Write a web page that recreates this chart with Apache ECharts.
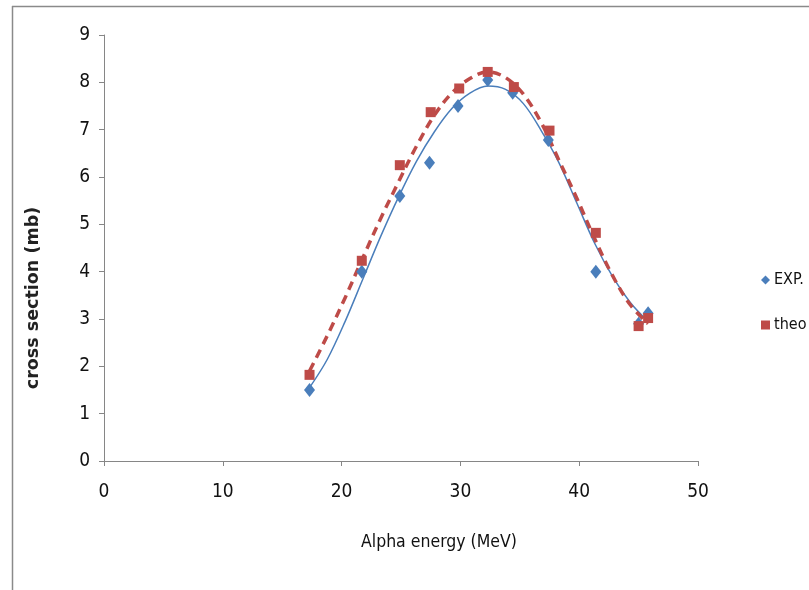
<!DOCTYPE html>
<html>
<head>
<meta charset="utf-8">
<script src="https://cdn.jsdelivr.net/npm/echarts@6/dist/echarts.min.js"></script>
<style>
html,body{margin:0;padding:0;background:#fff;}
#chart{width:809px;height:590px;}
</style>
</head>
<body>
<div id="chart"></div>
<script>
// Data
var expEnergy = [17.3, 21.7, 24.9, 27.4, 29.8, 32.3, 34.4, 37.4, 41.4, 45.0, 45.8];
var expSigma  = [1.5, 4.0, 5.6, 6.3, 7.5, 8.05, 7.78, 6.78, 4.0, 2.9, 3.12];
var theoEnergy = [17.3, 21.7, 24.9, 27.5, 29.9, 32.3, 34.5, 37.5, 41.4, 45.0, 45.8];
var theoSigma  = [1.82, 4.23, 6.25, 7.37, 7.87, 8.22, 7.9, 6.98, 4.82, 2.85, 3.02];
// Trend lines
var trendX = [17.3, 18.8, 20.3, 21.8, 23.3, 24.8, 26.3, 27.8, 29.3, 30.8, 32.3, 33.8, 35.3, 36.8, 38.3, 39.8, 41.3, 42.8, 44.3, 45.8];
var expTrendY  = [1.55, 2.15, 2.95, 3.85, 4.75, 5.58, 6.33, 6.95, 7.45, 7.77, 7.92, 7.85, 7.55, 6.98, 6.3, 5.45, 4.6, 3.9, 3.35, 2.95];
var theoTrendY = [1.9, 2.65, 3.45, 4.3, 5.13, 5.9, 6.65, 7.3, 7.78, 8.08, 8.22, 8.1, 7.75, 7.15, 6.35, 5.55, 4.7, 3.92, 3.3, 2.9];
var xTicks = [0, 10, 20, 30, 40, 50];
var yTicks = [0, 1, 2, 3, 4, 5, 6, 7, 8, 9];
var seriesNames = ['EXP.', 'theo'];
var xTitle = 'Alpha energy (MeV)';
var yTitle = 'cross section (mb)';

function zip(a, b) { return a.map(function (v, i) { return [v, b[i]]; }); }

var FONT = "'Liberation Sans Narrow', 'DejaVu Sans Condensed', 'Liberation Sans', sans-serif";
var BLUE = '#4a7ebb', RED = '#be4b48', AXIS = '#868686';

var chart = echarts.init(document.getElementById('chart'), null, {renderer: 'canvas'});
chart.setOption({
  animation: false,
  backgroundColor: '#fff',
  grid: {left: 104, right: 111, top: 35, bottom: 129, containLabel: false},
  xAxis: {
    type: 'value', min: xTicks[0], max: xTicks[xTicks.length - 1], interval: 10,
    axisLine: {show: true, lineStyle: {color: AXIS, width: 1}},
    axisTick: {show: true, length: 5, inside: false, lineStyle: {color: AXIS}},
    axisLabel: {color: '#111', fontSize: 19, fontFamily: FONT, margin: 22},
    splitLine: {show: false}
  },
  yAxis: {
    type: 'value', min: yTicks[0], max: yTicks[yTicks.length - 1], interval: 1,
    axisLine: {show: true, lineStyle: {color: AXIS, width: 1}},
    axisTick: {show: true, length: 5, lineStyle: {color: AXIS}},
    axisLabel: {color: '#111', fontSize: 19, fontFamily: FONT, margin: 14},
    splitLine: {show: false}
  },
  legend: {
    orient: 'vertical', left: 756, top: 267, itemGap: 29,
    itemWidth: 9, itemHeight: 9,
    textStyle: {fontSize: 16, fontFamily: FONT, color: '#111', padding: [0, 0, 0, -1]},
    data: seriesNames
  },
  series: [
    {name: 'expTrend', type: 'line', smooth: 0.35, showSymbol: false, symbol: 'none',
     data: zip(trendX, expTrendY), lineStyle: {color: BLUE, width: 1.5}, z: 2, silent: true},
    {name: 'theoTrend', type: 'line', smooth: 0.35, showSymbol: false, symbol: 'none',
     data: zip(trendX, theoTrendY), lineStyle: {color: RED, width: 3.5, type: [9, 6]}, z: 3, silent: true},
    {name: seriesNames[0], type: 'scatter', symbol: 'diamond', symbolSize: [11, 14],
     itemStyle: {color: BLUE, opacity: 1}, data: zip(expEnergy, expSigma), z: 4},
    {name: seriesNames[1], type: 'scatter', symbol: 'rect', symbolSize: 10,
     itemStyle: {color: RED, opacity: 1}, data: zip(theoEnergy, theoSigma), z: 5}
  ],
  graphic: [
    {type: 'line', shape: {x1: 12.5, y1: 6, x2: 12.5, y2: 590}, style: {stroke: '#8a8a8a', lineWidth: 1.5}},
    {type: 'line', shape: {x1: 12, y1: 6.5, x2: 809, y2: 6.5}, style: {stroke: '#8a8a8a', lineWidth: 1.5}},
    {type: 'text', left: 361, top: 533, style: {text: xTitle, fontSize: 17.5, fontFamily: FONT, fill: '#111'}},
    {type: 'text', x: 33, y: 298, rotation: Math.PI / 2,
     style: {text: yTitle, fontSize: 17.5, fontWeight: 'bold', fontFamily: "'DejaVu Sans', sans-serif", fill: '#222', align: 'center', verticalAlign: 'middle'}}
  ]
});
</script>
</body>
</html>
